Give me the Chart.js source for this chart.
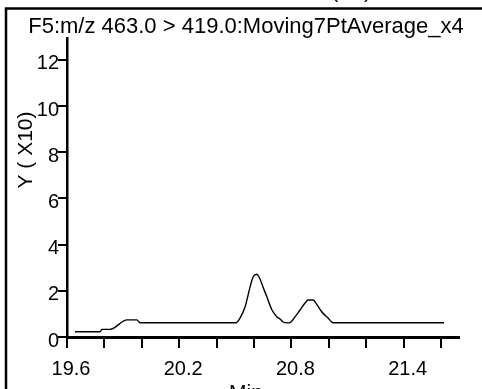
<!DOCTYPE html>
<html>
<head>
<meta charset="utf-8">
<script src="https://cdn.jsdelivr.net/npm/chart.js@4"></script>
<style>
  html, body { margin:0; padding:0; background:#fff; }
  #wrap { width:482px; height:389px; position:relative; }
</style>
</head>
<body>
<div id="wrap"><canvas id="chromChart" width="482" height="389"></canvas></div>
<script>
/* ── data (intensity in units of x10) ── */
const TIMES = [19.643, 19.776, 19.787, 19.83, 19.921, 19.974, 19.99, 20.504, 20.525, 20.552, 20.579, 20.595, 20.614, 20.627, 20.648, 20.669, 20.696, 20.723, 20.739, 20.755, 20.777, 20.792, 20.819, 20.846, 20.873, 20.889, 20.916, 20.937, 20.963, 20.996, 21.022, 21.616];
const INTENSITY = [0.23, 0.23, 0.33, 0.33, 0.74, 0.74, 0.62, 0.62, 0.82, 1.30, 2.17, 2.60, 2.72, 2.60, 2.17, 1.73, 1.17, 0.87, 0.78, 0.65, 0.61, 0.62, 0.87, 1.17, 1.47, 1.60, 1.60, 1.39, 1.08, 0.82, 0.62, 0.62];
const X_LABELS = [19.6, 20.2, 20.8, 21.4];
const Y_TICK_STEP = 2;

const TITLE = 'F5:m/z 463.0 > 419.0:Moving7PtAverage_x4';
const FONT = '"Liberation Sans", Arial, sans-serif';

/* ── frame + text overlay ── */
const framePlugin = {
  id:'frame',
  afterDraw(chart) {
    const c = chart.ctx;
    c.save();
    c.strokeStyle = '#000';
    c.lineWidth = 2.5;
    c.beginPath();
    c.moveTo(6, 389); c.lineTo(6, 8.5); c.lineTo(482, 8.5);
    c.stroke();
    c.fillStyle = '#000';
    c.textAlign = 'center';
    c.textBaseline = 'alphabetic';
    c.font = '21px ' + FONT;
    c.fillText('Relative Abundance vs Time (X1)', 215, -2);
    c.font = '22px ' + FONT;
    c.fillText(TITLE, 246, 33);
    c.font = '21px ' + FONT;
    c.fillText('Min', 246, 399);
    c.translate(32, 150);
    c.rotate(-Math.PI/2);
    c.fillText('Y ( X10)', 0, 0);
    c.restore();
  }
};

const ctx = document.getElementById('chromChart').getContext('2d');
new Chart(ctx, {
  type:'scatter',
  data:{
    datasets:[{
      data: TIMES.map((t,i)=>({x:t, y:INTENSITY[i]})),
      showLine:true, borderColor:'#000', borderWidth:1.4,
      pointRadius:0, cubicInterpolationMode:'monotone', fill:false
    }]
  },
  options:{
    responsive:false, animation:false, devicePixelRatio:1,
    layout:{ padding:{ left:0, top:38, right:23, bottom:0 } },
    plugins:{ legend:{display:false}, tooltip:{enabled:false} },
    scales:{
      x:{
        type:'linear', min:19.6, max:21.696,
        afterFit:s=>{ s.height = 52; },
        border:{ display:true, color:'#000', width:3 },
        grid:{ drawOnChartArea:false, tickLength:11, color:'#000', lineWidth:2 },
        ticks:{
          stepSize:0.2, includeBounds:false, autoSkip:false, maxRotation:0,
          color:'#000', font:{family:FONT, size:20}, padding:9, labelOffset:4,
          callback:v => X_LABELS.some(l => Math.abs(l - v) < 1e-6) ? v.toFixed(1) : ''
        }
      },
      y:{
        type:'linear', min:0, max:12.95,
        afterFit:s=>{ s.width = 67; },
        border:{ display:true, color:'#000', width:2.5 },
        grid:{ drawOnChartArea:false, tickLength:9, color:'#000', lineWidth:2 },
        ticks:{
          stepSize:Y_TICK_STEP, includeBounds:false, color:'#000',
          font:{family:FONT, size:20}, padding:-1, labelOffset:4
        }
      }
    }
  },
  plugins:[framePlugin]
});
</script>
</body>
</html>
